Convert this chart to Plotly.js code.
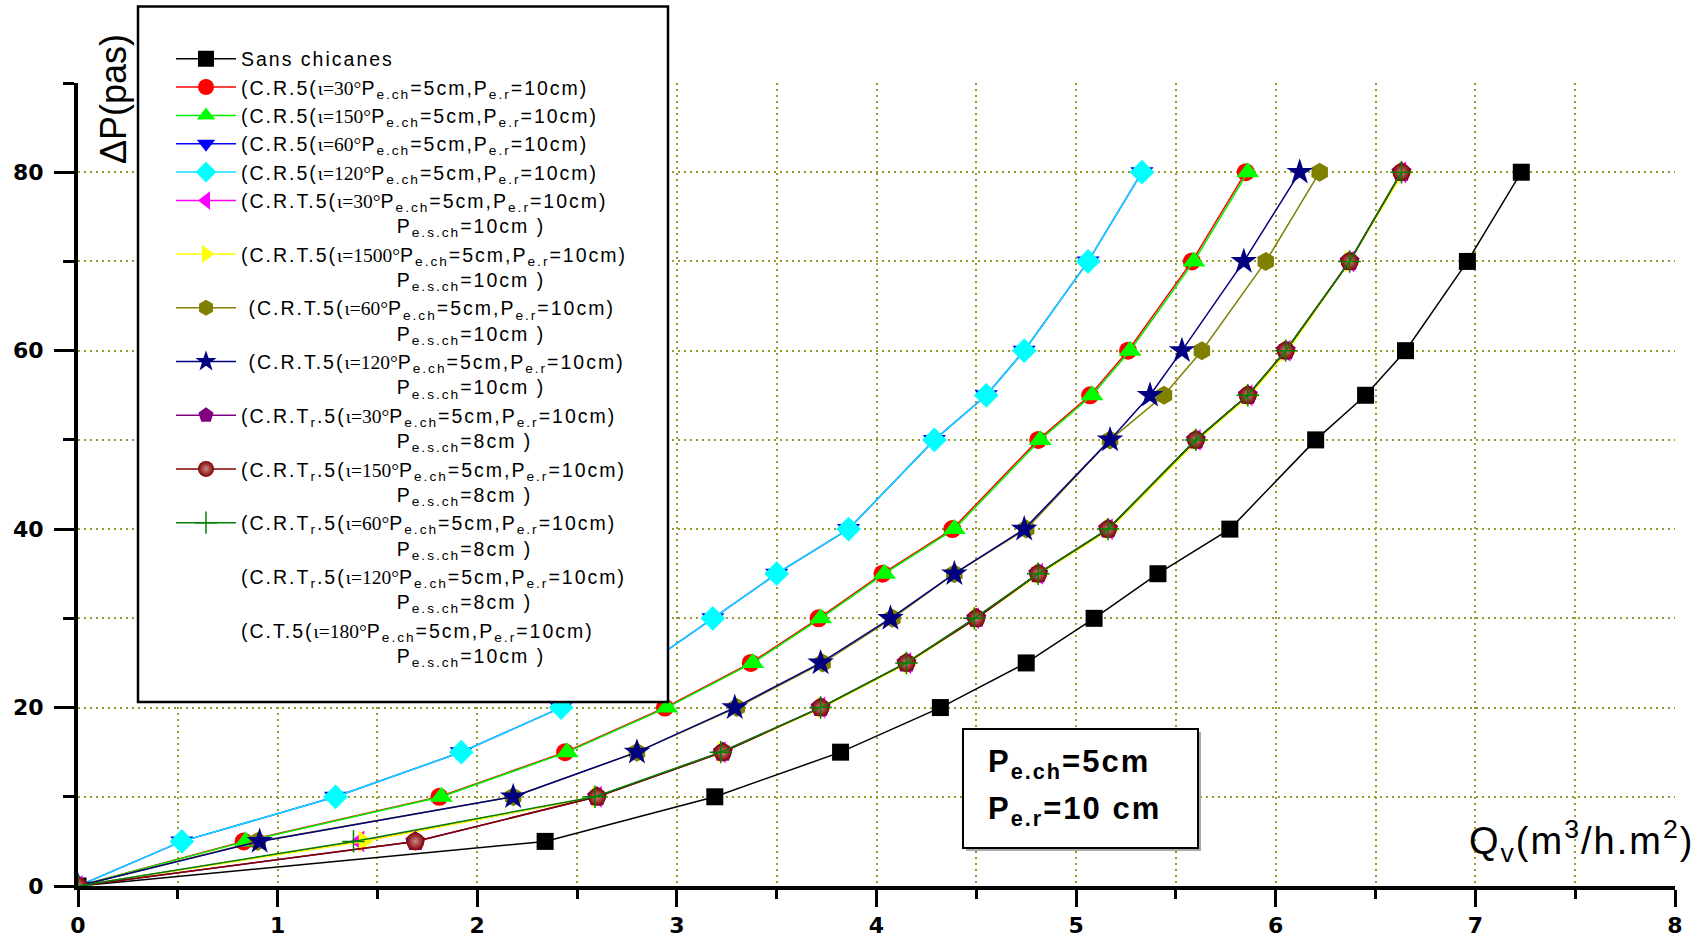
<!DOCTYPE html>
<html>
<head>
<meta charset="utf-8">
<script src="https://cdn.plot.ly/plotly-3.0.1.min.js"></script>
<style>
html,body{margin:0;padding:0;background:#fff;}
#chart{width:1708px;height:938px;}
.legendtext{letter-spacing:2px;}
</style>
</head>
<body>
<div id="chart"></div>
<script>
// ---- Data (ΔP levels in pas, flow rates Qv in m3/h.m2) ----
const dpLevels = [0, 5, 10, 15, 20, 25, 30, 35, 40, 50, 55, 60, 70, 80];

const qSansChicanes = [0, 2.34, 3.19, 3.82, 4.32, 4.75, 5.09, 5.41, 5.77, 6.20, 6.45, 6.65, 6.96, 7.23];
const qCR5_30   = [0, 0.83, 1.81, 2.44, 2.94, 3.37, 3.71, 4.03, 4.38, 4.81, 5.07, 5.26, 5.58, 5.85];
const qCR5_150  = [0, 0.84, 1.82, 2.45, 2.95, 3.38, 3.72, 4.04, 4.39, 4.82, 5.08, 5.27, 5.59, 5.86];
const qCR5_60   = [0, 0.52, 1.29, 1.92, 2.42, 2.86, 3.18, 3.50, 3.86, 4.29, 4.55, 4.74, 5.06, 5.33];
const qCR5_120  = [0, 0.52, 1.29, 1.92, 2.42, 2.86, 3.18, 3.50, 3.86, 4.29, 4.55, 4.74, 5.06, 5.33];
const qCRT5_30   = [0, 1.41, 2.60, 3.22, 3.72, 4.15, 4.49, 4.81, 5.16, 5.60, 5.86, 6.05, 6.37, 6.63];
const qCRT5_1500 = [0, 1.43, 2.60, 3.23, 3.73, 4.16, 4.50, 4.82, 5.17, 5.61, 5.87, 6.06, 6.37, 6.64];
const qCRT5_60   = [0, 0.90, 2.18, 2.80, 3.30, 3.73, 4.08, 4.39, 4.75, 5.17, 5.44, 5.63, 5.95, 6.22];
const qCRT5_120  = [0, 0.91, 2.18, 2.80, 3.29, 3.72, 4.07, 4.39, 4.74, 5.17, 5.37, 5.53, 5.84, 6.12];
const qCRTr5_30  = [0, 1.69, 2.60, 3.23, 3.72, 4.15, 4.50, 4.81, 5.16, 5.60, 5.86, 6.05, 6.37, 6.63];
const qCRTr5_150 = [0, 1.69, 2.60, 3.23, 3.72, 4.15, 4.50, 4.81, 5.16, 5.60, 5.86, 6.05, 6.37, 6.63];
const qCRTr5_60  = [0, 1.38, 2.59, 3.22, 3.72, 4.15, 4.49, 4.81, 5.16, 5.60, 5.86, 6.05, 6.37, 6.63];
// these two series appear only in the legend (no visible marks in the chart)
const qCRTr5_120 = [null];
const qCT5_180   = [null];
const dpNotShown = [null];

const xTickLabels = ['0','1','2','3','4','5','6','7','8'];
const yTickLabels = ['0','20','40','60','80'];

// ---- Layout geometry helpers (pixels -> paper) ----
const W = 1708, H = 938, ML = 78, MR = 33, MT = 83, MB = 52;
const PW = W - ML - MR, PH = H - MT - MB;
const px = x => (x - ML) / PW;
const py = y => (H - MB - y) / PH;

// ---- Legend labels ----
const SERIF = s => `<span style="font-family:'Liberation Serif',serif;letter-spacing:0px">${s}</span>`;
const IND = '\u00a0'.repeat(21);
const head = (pre, ang) => `${pre}(${SERIF('ι=' + ang + '°')}P<sub>e.ch</sub>=5cm,P<sub>e.r</sub>=10cm)`;
const tail = v => `<br>${IND}P<sub>e.s.ch</sub>=${v}cm )`;

const names = [
  'Sans chicanes',
  head('(C.R.5', '30'),
  head('(C.R.5', '150'),
  head('(C.R.5', '60'),
  head('(C.R.5', '120'),
  head('(C.R.T.5', '30') + tail('10'),
  head('(C.R.T.5', '1500') + tail('10'),
  head('\u00a0(C.R.T.5', '60') + tail('10'),
  head('\u00a0(C.R.T.5', '120') + tail('10'),
  head('(C.R.T<sub>r</sub>.5', '30') + tail('8'),
  head('(C.R.T<sub>r</sub>.5', '150') + tail('8'),
  head('(C.R.T<sub>r</sub>.5', '60') + tail('8'),
  head('(C.R.T<sub>r</sub>.5', '120') + tail('8'),
  head('(C.T.5', '180') + tail('10')
];

function tr(name, xs, ys, color, marker, mode) {
  return {
    type: 'scatter', mode: mode || 'lines+markers',
    x: xs, y: ys,
    name: name, showlegend: true,
    line: {color: color, width: 1.5},
    marker: Object.assign({color: color, line: {width: 0}}, marker),
    hoverinfo: 'x+y'
  };
}

const data = [
  tr(names[0], qSansChicanes, dpLevels, '#000000', {symbol: 'square', size: 17}),
  tr(names[1], qCR5_30, dpLevels, '#ff0000', {symbol: 'circle', size: 18}),
  tr(names[2], qCR5_150, dpLevels, '#00ee00', {symbol: 'triangle-up', size: 20, color: '#00ff00'}),
  tr(names[3], qCR5_60, dpLevels, '#0000ff', {symbol: 'triangle-down', size: 20}),
  tr(names[4], qCR5_120, dpLevels, '#11ddff', {symbol: 'diamond', size: 19, color: '#00ffff'}),
  tr(names[5], qCRT5_30, dpLevels, '#ff00ff', {symbol: 'triangle-left', size: 19}),
  tr(names[6], qCRT5_1500, dpLevels, '#ffff00', {symbol: 'triangle-right', size: 19}),
  tr(names[7], qCRT5_60, dpLevels, '#808000', {symbol: 'hexagon', size: 19}),
  tr(names[8], qCRT5_120, dpLevels, '#000080', {symbol: 'star', size: 20}),
  tr(names[9], qCRTr5_30, dpLevels, '#800080', {symbol: 'pentagon', size: 21}),
  tr(names[10], qCRTr5_150, dpLevels, '#800000', {symbol: 'circle', size: 18, gradient: {type: 'radial', color: '#cc8888'}}),
  tr(names[11], qCRTr5_60, dpLevels, '#008000', {symbol: 'cross-thin', size: 16, line: {width: 1.5, color: '#008000'}}),
  tr(names[12], qCRTr5_120, dpNotShown, '#000000', {}, 'none'),
  tr(names[13], qCT5_180, dpNotShown, '#000000', {}, 'none')
];

const gridCol = '#9a9a28';
const gridDash = '2px,4px';
const tickFont = {family: 'DejaVu Sans', size: 22, weight: 'bold', color: '#000'};

const layout = {
  width: W, height: H,
  margin: {l: ML, r: MR, t: MT, b: MB, autoexpand: false},
  paper_bgcolor: '#fff', plot_bgcolor: '#fff',
  showlegend: true,
  legend: {
    x: px(171), y: py(39.5), xanchor: 'left', yanchor: 'top',
    bgcolor: 'rgba(0,0,0,0)', borderwidth: 0, maxheight: 900,
    font: {family: 'Liberation Sans', size: 19.5, color: '#000'},
    itemwidth: 60, valign: 'top', traceorder: 'normal'
  },
  xaxis: {
    range: [0, 8], tickmode: 'array', tickvals: [0,1,2,3,4,5,6,7,8], ticktext: xTickLabels,
    ticks: 'outside', ticklen: 17, tickwidth: 3, tickcolor: '#000',
    showline: true, linewidth: 4, linecolor: '#000', zeroline: false,
    showgrid: true, gridcolor: gridCol, gridwidth: 1.5, griddash: gridDash,
    tickfont: tickFont, ticklabelstandoff: 0,
    minor: {dtick: 0.5, ticks: 'outside', ticklen: 9, tickwidth: 3, tickcolor: '#000',
            showgrid: true, gridcolor: gridCol, gridwidth: 1.5, griddash: gridDash},
    fixedrange: true
  },
  yaxis: {
    range: [0, 90], tickmode: 'array', tickvals: [0,20,40,60,80], ticktext: yTickLabels,
    ticks: 'outside', ticklen: 20, tickwidth: 3, tickcolor: '#000',
    showline: true, linewidth: 4, linecolor: '#000', zeroline: false,
    showgrid: true, gridcolor: gridCol, gridwidth: 1.5, griddash: gridDash,
    tickfont: tickFont, ticklabelstandoff: 6,
    minor: {dtick: 10, ticks: 'outside', ticklen: 11, tickwidth: 3, tickcolor: '#000',
            showgrid: true, gridcolor: gridCol, gridwidth: 1.5, griddash: gridDash},
    fixedrange: true
  },
  shapes: [
    // hide grid lines lying on the plot-area edges (top and right)
    {type: 'line', xref: 'paper', yref: 'paper', layer: 'between',
     x0: px(82), x1: 1.01, y0: 1, y1: 1, line: {color: '#fff', width: 4}},
    {type: 'line', xref: 'paper', yref: 'paper', layer: 'between',
     x0: 1, x1: 1, y0: py(880), y1: 1.01, line: {color: '#fff', width: 4}},
    // legend frame
    {type: 'rect', xref: 'paper', yref: 'paper', layer: 'above',
     x0: px(138), x1: px(668), y0: py(702), y1: py(6.5),
     line: {color: '#000', width: 2.5}, fillcolor: '#fff'},
    // info box shadow + frame
    {type: 'rect', xref: 'paper', yref: 'paper', layer: 'above',
     x0: px(966), x1: px(1201), y0: py(851), y1: py(732),
     line: {width: 0}, fillcolor: '#aaaaaa'},
    {type: 'rect', xref: 'paper', yref: 'paper', layer: 'above',
     x0: px(963), x1: px(1198), y0: py(848), y1: py(729),
     line: {color: '#000', width: 2}, fillcolor: '#fff'}
  ],
  annotations: [
    {xref: 'paper', yref: 'paper', x: px(114), y: py(99), xanchor: 'center', yanchor: 'middle',
     textangle: -90, showarrow: false, text: 'ΔP(pas)',
     font: {family: 'Liberation Sans', size: 36, color: '#000'}},
    {xref: 'paper', yref: 'paper', x: px(1467), y: py(841), xanchor: 'left', yanchor: 'middle',
     showarrow: false,
     text: '<span style="letter-spacing:2px">Q<sub>v</sub>(m<sup>3</sup>/h.m<sup>2</sup>)</span>',
     font: {family: 'Liberation Sans', size: 38, color: '#000'}},
    {xref: 'paper', yref: 'paper', x: px(986), y: py(764), xanchor: 'left', yanchor: 'middle',
     showarrow: false,
     text: '<span style="letter-spacing:2px">P<sub>e.ch</sub>=5cm</span>',
     font: {family: 'Liberation Sans', size: 31, weight: 'bold', color: '#000'}},
    {xref: 'paper', yref: 'paper', x: px(986), y: py(810.5), xanchor: 'left', yanchor: 'middle',
     showarrow: false,
     text: '<span style="letter-spacing:2px">P<sub>e.r</sub>=10 cm</span>',
     font: {family: 'Liberation Sans', size: 31, weight: 'bold', color: '#000'}}
  ]
};

Plotly.newPlot('chart', data, layout, {displayModeBar: false, responsive: false});
</script>
</body>
</html>
